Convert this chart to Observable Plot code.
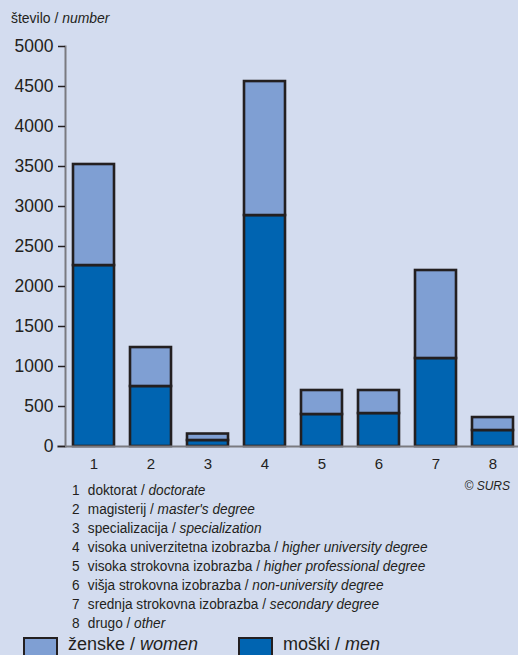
<!DOCTYPE html>
<html>
<head>
<meta charset="utf-8">
<script src="https://cdn.jsdelivr.net/npm/d3@7"></script>
<script src="https://cdn.jsdelivr.net/npm/@observablehq/plot@0.6"></script>
<style>
  html, body { margin: 0; padding: 0; }
  body { width: 518px; height: 655px; background: #d3dcef; position: relative; overflow: hidden;
         font-family: "Liberation Sans", Arial, sans-serif; color: #231f20; }
  #chart { position: absolute; left: 0; top: 0; }
  .abs { position: absolute; white-space: nowrap; }
  i { font-style: italic; }
  #ylabel { left: 11px; top: 9px; font-size: 15px; transform: scaleX(0.93); transform-origin: left top; }
  #copy { right: 8px; top: 479px; font-size: 12px; font-style: italic; }
  #list { left: 72px; top: 480px; font-size: 15.5px; line-height: 19px; transform: scaleX(0.88); transform-origin: left top; }
  #list .n { display: inline-block; width: 18px; }
  .legbox { position: absolute; width: 31px; height: 24px; border: 2.5px solid #231f20; }
  .legtxt { position: absolute; font-size: 18px; top: 634px; }
</style>
</head>
<body>
<div id="chart"></div>
<div id="ylabel" class="abs">število / <i>number</i></div>
<div id="copy" class="abs">© SURS</div>
<div id="list" class="abs"></div>
<div class="legbox" style="left:23px;top:637px;background:#7f9fd3"></div>
<div class="legtxt" style="left:68px">ženske / <i>women</i></div>
<div class="legbox" style="left:238px;top:637px;background:#0064b1"></div>
<div class="legtxt" style="left:283px">moški / <i>men</i></div>
<script>
const categories = ["1", "2", "3", "4", "5", "6", "7", "8"];
const men   = [2262, 750, 75, 2887, 400, 412, 1100, 200];
const women = [1263, 487, 81, 1675, 300, 288, 1100, 162];
const seriesNames = ["moški", "ženske"];
const seriesColors = ["#0064b1", "#7f9fd3"];
const yTicks = [0, 500, 1000, 1500, 2000, 2500, 3000, 3500, 4000, 4500, 5000];
const listSl = ["doktorat", "magisterij", "specializacija", "visoka univerzitetna izobrazba",
  "visoka strokovna izobrazba", "višja strokovna izobrazba", "srednja strokovna izobrazba", "drugo"];
const listEn = ["doctorate", "master's degree", "specialization", "higher university degree",
  "higher professional degree", "non-university degree", "secondary degree", "other"];

const data = [];
categories.forEach((c, i) => {
  data.push({cat: c, sex: seriesNames[0], value: men[i]});
  data.push({cat: c, sex: seriesNames[1], value: women[i]});
});

const chart = Plot.plot({
  width: 518,
  height: 480,
  marginLeft: 65,
  marginRight: 0,
  marginTop: 46,
  marginBottom: 34,
  style: {background: "transparent", fontFamily: "'Liberation Sans', Arial, sans-serif", color: "#231f20"},
  x: {domain: categories, paddingInner: 0.28, paddingOuter: 0.14, align: 0.5, range: [65, 521]},
  y: {domain: [0, 5000]},
  color: {domain: seriesNames, range: seriesColors},
  marks: [
    Plot.barY(data, {x: "cat", y: "value", fill: "sex", order: seriesNames,
      stroke: "#231f20", strokeWidth: 2.6}),
    Plot.ruleY([0], {stroke: "#7a7a80", strokeWidth: 2, insetLeft: -8}),
    Plot.frame({anchor: "left", stroke: "#7a7a80", strokeWidth: 2}),
    Plot.axisY({ticks: yTicks, tickSize: 7, tickPadding: 5, fontSize: 17.5, label: null,
      stroke: "#231f20", strokeWidth: 1.5, tickFormat: d => String(d)}),
    Plot.axisX({tickSize: 0, tickPadding: 12, fontSize: 15, label: null})
  ]
});
document.getElementById("chart").appendChild(chart);

const list = document.getElementById("list");
listSl.forEach((s, i) => {
  const d = document.createElement("div");
  d.innerHTML = `<span class="n">${categories[i]}</span>${s} / <i>${listEn[i]}</i>`;
  list.appendChild(d);
});
</script>
</body>
</html>
